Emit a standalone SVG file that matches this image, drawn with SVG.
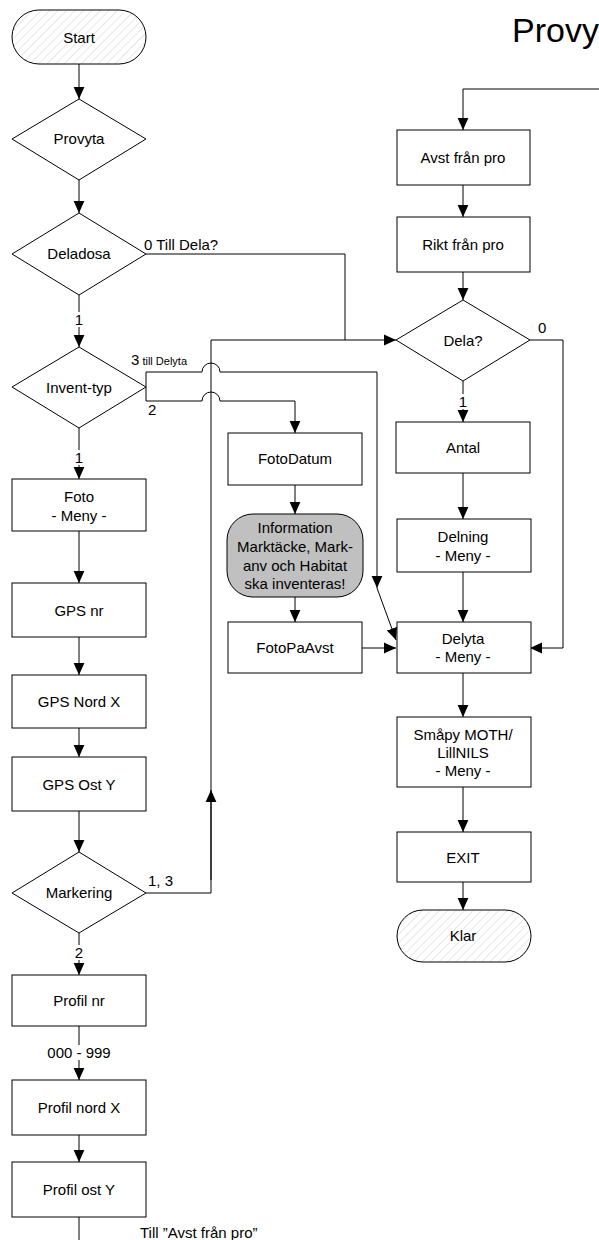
<svg xmlns="http://www.w3.org/2000/svg" width="599" height="1240" viewBox="0 0 599 1240">
<defs>
<style>
.n{fill:#fff;stroke:#000;stroke-width:1}
.t{font-family:"Liberation Sans",Arial,sans-serif;font-size:15px;fill:#000;text-anchor:middle}
.l{font-family:"Liberation Sans",Arial,sans-serif;font-size:15px;fill:#000}
.c{fill:none;stroke:#000;stroke-width:1}
.a{marker-end:url(#ah)}
</style>
<marker id="ah" markerUnits="userSpaceOnUse" markerWidth="12" markerHeight="12" viewBox="0 0 10 10" refX="10" refY="5" orient="auto">
<path d="M0,0.5 L10,5 L0,9.5 Z" fill="#000"/>
</marker>
<pattern id="hatch" patternUnits="userSpaceOnUse" width="6" height="6" patternTransform="rotate(45)">
<rect width="6" height="6" fill="#fff"/>
<line x1="0" y1="0" x2="0" y2="6" stroke="#cfcfcf" stroke-width="1"/>
</pattern>
</defs>
<rect width="599" height="1240" fill="#fff"/>
<text x="512" y="42" font-family="'Liberation Sans',Arial,sans-serif" font-size="34" fill="#000">Provy</text>

<g id="connectors">
<path class="c a" d="M79,64 V99"/>
<path class="c a" d="M79,180 V213"/>
<path class="c a" d="M79,295 V347"/>
<path class="c" d="M146,254 H345 V340"/>
<path class="c a" d="M211,880 V340 H396"/>
<path class="c a" d="M211,893 V790"/>
<path class="c" d="M146,893 H211"/>
<path class="c" d="M146,372 V401"/>
<path class="c a" d="M146,372 H202 A9,9 0 0 1 220,372 H377 V588"/>
<path class="c a" d="M377,588 L396,640"/>
<path class="c a" d="M146,401 H202 A9,9 0 0 1 220,401 H295 V433"/>
<path class="c a" d="M79,428 V479"/>
<path class="c a" d="M79,531 V583"/>
<path class="c a" d="M79,637 V675"/>
<path class="c a" d="M79,728 V757"/>
<path class="c a" d="M79,811 V852"/>
<path class="c a" d="M79,933 V975"/>
<path class="c a" d="M79,1026 V1080"/>
<path class="c a" d="M79,1135 V1162"/>
<path class="c" d="M79,1217 V1240"/>
<path class="c a" d="M599,89 H463 V130"/>
<path class="c a" d="M463,185 V217"/>
<path class="c a" d="M463,272 V300"/>
<path class="c a" d="M463,381 V422"/>
<path class="c a" d="M530,340 H563 V648 H530"/>
<path class="c a" d="M463,473 V519"/>
<path class="c a" d="M463,572 V622"/>
<path class="c a" d="M295,485 V514"/>
<path class="c a" d="M295,597 V622"/>
<path class="c a" d="M362,648 H396"/>
<path class="c a" d="M463,673 V717"/>
<path class="c a" d="M463,787 V832"/>
<path class="c a" d="M463,882 V910"/>
<rect x="71" y="312" width="16" height="15" fill="#fff"/>
<text class="t" x="79" y="325">1</text>
<rect x="71" y="450" width="16" height="15" fill="#fff"/>
<text class="t" x="79" y="463">1</text>
<rect x="71" y="945" width="16" height="15" fill="#fff"/>
<text class="t" x="79" y="958">2</text>
<rect x="44" y="1045" width="70" height="15" fill="#fff"/>
<text class="t" x="79" y="1058">000 - 999</text>
<rect x="455" y="394" width="16" height="15" fill="#fff"/>
<text class="t" x="463" y="407">1</text>
<text class="l" x="144" y="250">0 Till Dela?</text>
<text class="l" x="131" y="365">3<tspan font-size="11"> till Delyta</tspan></text>
<text class="l" x="148" y="415">2</text>
<text class="l" x="148" y="886">1, 3</text>
<text class="l" x="538" y="333">0</text>
<text class="l" x="140" y="1238">Till ”Avst från pro”</text>
</g>

<g id="start"><rect class="n" x="12" y="10" width="134" height="54" rx="27" style="fill:url(#hatch)"/><text class="t" x="79" y="43">Start</text></g>
<g id="provyta"><path class="n" d="M79,99 L146,139 L79,180 L12,139 Z"/><text class="t" x="79" y="144">Provyta</text></g>
<g id="deladosa"><path class="n" d="M79,213 L146,254 L79,295 L12,254 Z"/><text class="t" x="79" y="259">Deladosa</text></g>
<g id="invent-typ"><path class="n" d="M79,347 L146,387 L79,428 L12,387 Z"/><text class="t" x="79" y="393">Invent-typ</text></g>
<g id="foto"><rect class="n" x="12" y="479" width="134" height="52"/><text class="t" x="79" y="502">Foto</text><text class="t" x="79" y="521">- Meny -</text></g>
<g id="gps-nr"><rect class="n" x="12" y="583" width="134" height="54"/><text class="t" x="79" y="616">GPS nr</text></g>
<g id="gps-nord"><rect class="n" x="12" y="675" width="134" height="53"/><text class="t" x="79" y="707">GPS Nord X</text></g>
<g id="gps-ost"><rect class="n" x="12" y="757" width="134" height="54"/><text class="t" x="79" y="790">GPS Ost Y</text></g>
<g id="markering"><path class="n" d="M79,852 L146,893 L79,933 L12,893 Z"/><text class="t" x="79" y="898">Markering</text></g>
<g id="profil-nr"><rect class="n" x="12" y="975" width="134" height="51"/><text class="t" x="79" y="1006">Profil nr</text></g>
<g id="profil-nord"><rect class="n" x="12" y="1080" width="134" height="55"/><text class="t" x="79" y="1113">Profil nord X</text></g>
<g id="profil-ost"><rect class="n" x="12" y="1162" width="134" height="55"/><text class="t" x="79" y="1195">Profil ost Y</text></g>

<g id="avst"><rect class="n" x="397" y="130" width="133" height="55"/><text class="t" x="463" y="163">Avst från pro</text></g>
<g id="rikt"><rect class="n" x="397" y="217" width="133" height="55"/><text class="t" x="463" y="250">Rikt från pro</text></g>
<g id="dela"><path class="n" d="M463,300 L530,340 L463,381 L396,340 Z"/><text class="t" x="463" y="346">Dela?</text></g>
<g id="antal"><rect class="n" x="396" y="422" width="134" height="51"/><text class="t" x="463" y="453">Antal</text></g>
<g id="delning"><rect class="n" x="397" y="519" width="134" height="53"/><text class="t" x="463" y="542">Delning</text><text class="t" x="463" y="561">- Meny -</text></g>
<g id="delyta"><rect class="n" x="397" y="622" width="134" height="51"/><text class="t" x="463" y="644">Delyta</text><text class="t" x="463" y="662">- Meny -</text></g>
<g id="smapy"><rect class="n" x="397" y="717" width="134" height="70"/><text class="t" x="463" y="740">Småpy MOTH/</text><text class="t" x="463" y="758">LillNILS</text><text class="t" x="463" y="776">- Meny -</text></g>
<g id="exit"><rect class="n" x="397" y="832" width="134" height="50"/><text class="t" x="463" y="863">EXIT</text></g>
<g id="klar"><rect class="n" x="397" y="910" width="134" height="52" rx="26" style="fill:url(#hatch)"/><text class="t" x="463" y="941">Klar</text></g>

<g id="fotodatum"><rect class="n" x="228" y="433" width="134" height="52"/><text class="t" x="295" y="464">FotoDatum</text></g>
<g id="information"><rect x="227" y="514" width="136" height="83" rx="26" fill="#c0c0c0" stroke="#000"/><text class="t" x="295" y="533">Information</text><text class="t" x="295" y="552">Marktäcke, Mark-</text><text class="t" x="295" y="571">anv och Habitat</text><text class="t" x="295" y="589">ska inventeras!</text></g>
<g id="fotopaavst"><rect class="n" x="228" y="622" width="134" height="51"/><text class="t" x="295" y="653">FotoPaAvst</text></g>
</svg>
